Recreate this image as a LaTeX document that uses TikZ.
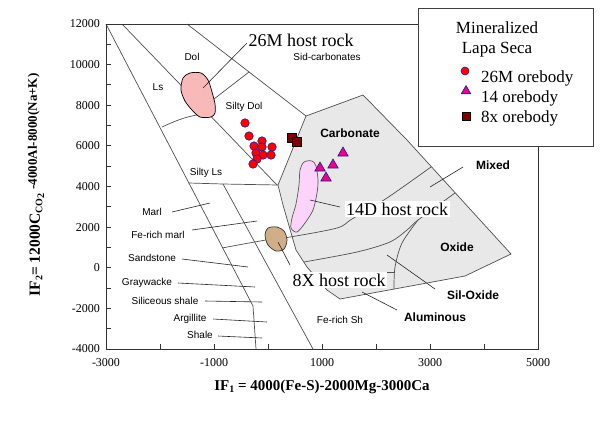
\documentclass[tikz,border=0pt]{standalone}
\usepackage{fontspec}
\setmainfont{Liberation Serif}
\newfontfamily\arialf{Liberation Sans}
\usetikzlibrary{shapes.geometric}
\definecolor{greyfill}{HTML}{E8E8E8}
\definecolor{pinkblob}{HTML}{F9B9B9}
\definecolor{lilac}{HTML}{FBD3FB}
\definecolor{tanblob}{HTML}{D1AE8A}
\definecolor{maroonc}{HTML}{800000}
\definecolor{navyc}{HTML}{1F1F8F}
\definecolor{lineg}{HTML}{505050}
\newcommand{\fsz}[1]{\fontsize{#1bp}{#1bp}\selectfont}
\newcommand{\lowsub}[1]{\raisebox{-0.35ex}{\fsz{10}#1}}
\begin{document}
\begin{tikzpicture}[x=1bp,y=-1bp,
 bnd/.style={draw=lineg,line width=0.7bp},
 ax/.style={draw=black!80,line width=1bp},
 sl/.style={font=\arialf\fsz{10},inner sep=0pt},
 bl/.style={font=\arialf\bfseries\fsz{12},inner sep=0pt},
 hr/.style={font=\fsz{18},fill=white,inner sep=1.5bp},
 tk/.style={font=\fsz{12},inner sep=0pt},
 lg/.style={font=\fsz{17},inner sep=0pt},
 circ/.style={circle,fill=red,draw=navyc,line width=0.6bp,minimum size=8.5bp,inner sep=0pt},
 tri/.style={regular polygon,regular polygon sides=3,fill=magenta,draw=navyc,line width=0.6bp,minimum size=12bp,inner sep=0pt},
 sqm/.style={rectangle,fill=maroonc,draw=black,line width=0.5bp,minimum size=9bp,inner sep=0pt},
 ldr/.style={draw=black!85,line width=0.6bp}]
\useasboundingbox (0,0) rectangle (600,421);
\fill[white] (0,0) rectangle (600,421);

% grey field
\filldraw[fill=greyfill,draw=lineg,line width=0.7bp] (278,185) -- (306,116) -- (363,95) -- (407,140) -- (511,254) -- (465,276) -- (340,299) -- (327,290) -- (307,267) -- (296,250) -- (283,205) -- cycle;

% boundaries
\draw[bnd] (106,24) -- (253,306) -- (256,349);
\draw[bnd] (122,24) -- (277,185);
\draw[bnd] (187,24) -- (306,116);
\draw[bnd] (223,184) -- (313,349);
\draw[bnd] (189,183) -- (223,184) -- (278,185);
\draw[bnd] (162,127) .. controls (175,121) and (185,117) .. (197,115);
\draw[bnd] (214,99) -- (249,72);
\draw[bnd] plot[smooth] coordinates {(222,248) (266,240) (290,237) (337,228) (352,219) (387,198) (431,167)};
\draw[bnd] plot[smooth] coordinates {(304,262) (357,252) (390,242) (407,230) (418,220) (455,193)};
\draw[bnd] plot[smooth] coordinates {(418,220) (402,243) (395,267) (394,289)};
\draw[bnd] (330,272) -- (395,272);

% host rock blobs
\filldraw[fill=pinkblob,draw=black,line width=0.7bp] plot[smooth cycle] coordinates {(190,73) (201,73) (208,80) (212,92) (215,104) (215,113) (211,117) (200,117) (192,110) (185,101) (181,90) (183,78)};
\filldraw[fill=lilac,draw=black!65,line width=0.7bp] plot[smooth cycle] coordinates {(304,162) (312,161) (316,166) (318,180) (317,193) (313,210) (305,223) (297,232) (291,228) (292,218) (296,204) (299,185) (300,170)};
\filldraw[fill=tanblob,draw=black!80,line width=0.7bp] plot[smooth cycle] coordinates {(268,228) (277,227) (284,231) (287,240) (284,249) (276,251) (268,245) (265,235)};

% leader end points
\coordinate (l26a) at (247,43);
\coordinate (l26b) at (203,88);
\coordinate (l14a) at (340,207);
\coordinate (l14b) at (310,200);
\coordinate (l8a) at (290,265);
\coordinate (l8b) at (278,242);
\coordinate (lmarla) at (172,212);   \coordinate (lmarlb) at (210,203);
\coordinate (lfema) at (192,230);    \coordinate (lfemb) at (257,221);
\coordinate (lsanda) at (182,259);   \coordinate (lsandb) at (248,267);
\coordinate (lgrya) at (178,283);    \coordinate (lgryb) at (255,287);
\coordinate (lsila) at (205,301);    \coordinate (lsilb) at (262,302);
\coordinate (larga) at (213,319);    \coordinate (largb) at (267,322);
\coordinate (lsha) at (218,336);     \coordinate (lshb) at (262,338);
\coordinate (lmixa) at (463,167);    \coordinate (lmixb) at (430,187);
\coordinate (lsoxa) at (435,289);    \coordinate (lsoxb) at (387,255);
\coordinate (laluma) at (397,310);   \coordinate (lalumb) at (362,292);

\draw[ldr] (l26a) -- (l26b);
\draw[ldr] (l14a) -- (l14b);
\draw[ldr] (l8a) -- (l8b);
\draw[ldr] (lmarla) -- (lmarlb);
\draw[ldr] (lfema) -- (lfemb);
\draw[ldr] (lsanda) -- (lsandb);
\draw[ldr] (lgrya) -- (lgryb);
\draw[ldr] (lsila) -- (lsilb);
\draw[ldr] (larga) -- (largb);
\draw[ldr] (lsha) -- (lshb);
\draw[ldr] (lmixa) -- (lmixb);
\draw[ldr] (lsoxa) -- (lsoxb);
\draw[ldr] (laluma) -- (lalumb);

% field labels
\node[sl] (tdol) at (192,57) {Dol};
\node[sl] (tls) at (158,87) {Ls};
\node[sl] (tsdol) at (244,107) {Silty Dol};
\node[sl] (tsls) at (206,173) {Silty Ls};
\node[sl] (tsid) at (327,57) {Sid-carbonates};
\node[sl] (tfesh) at (340,320) {Fe-rich Sh};
\node[sl] (tmarl) at (152,212) {Marl};
\node[sl] (tfem) at (158,235) {Fe-rich marl};
\node[sl] (tsand) at (152,258) {Sandstone};
\node[sl] (tgry) at (147,283) {Graywacke};
\node[sl] (tsil) at (165,301) {Siliceous shale};
\node[sl] (targ) at (190,319) {Argillite};
\node[sl] (tsh) at (200,335) {Shale};
\node[bl] (tcarb) at (350,133) {Carbonate};
\node[bl] (tmix) at (493,165) {Mixed};
\node[bl] (toxi) at (457,247) {Oxide};
\node[bl] (tsox) at (473,295) {Sil-Oxide};
\node[bl] (talum) at (435,317) {Aluminous};

% host rock labels
\node[hr] (h26) at (301,40) {26M host rock};
\node[hr] (h14) at (397,209) {14D host rock};
\node[hr] (h8) at (339,280) {8X host rock};

% data
\foreach \p [count=\k] in {(245,123),(249,136),(262,141),(254,146),(262,147),(272,147),(256,153),(263,155),(271,155),(257,159),(253,164)}
  \node[circ] (c\k) at \p {};
\foreach \p [count=\k] in {(343,153),(333,165),(320,168),(326,178)}
  \node[tri] (t\k) at \p {};
\node[sqm] (s1) at (292,138) {};
\node[sqm] (s2) at (297,142) {};

% axes
\draw[ax] (418,24) -- (106,24) -- (106,349) -- (538,349) -- (538,146);
\foreach \i in {1,...,7} \draw[ax] (106+54*\i,349) -- (106+54*\i,344);
\foreach \i in {1,...,15} \draw[ax] (106,24+20.3125*\i) -- (111,24+20.3125*\i);
\foreach \v/\xx in {-3000/106,-1000/214,1000/322,3000/430,5000/538}
  \node[tk] (xt\xx) at (\xx,363) {\v};
\foreach \v [count=\k] in {12000,10000,8000,6000,4000,2000,0,-2000,-4000}
  \node[tk,anchor=east] (yt\k) at (100,{24+40.625*(\k-1)}) {\v};

\node[inner sep=0pt] (xtitle) at (322,387) {\fsz{15}\bfseries IF\lowsub{1} = 4000(Fe-S)-2000Mg-3000Ca};
\node[inner sep=0pt,rotate=90] (ytitle) at (36,185) {\fsz{15.5}\bfseries IF\lowsub{2}= 12000C\lowsub{CO\lowsub{2}} \raisebox{3bp}{\fsz{13}-4000Al-8000(Na+K)}};

% legend
\draw[draw=black!75,fill=white,line width=0.8bp] (418,8) rectangle (593,146);
\node[lg] (lgt1) at (497,28) {Mineralized};
\node[lg] (lgt2) at (497,50) {Lapa Seca};
\node[circ,minimum size=8bp] (lgc) at (465,71) {};
\node[tri,minimum size=11bp] (lgtr) at (466,91) {};
\node[sqm,minimum size=8bp] (lgs) at (466,116) {};
\node[lg,anchor=west] (lgl1) at (481,78) {26M orebody};
\node[lg,anchor=west] (lgl2) at (481,98) {14 orebody};
\node[lg,anchor=west] (lgl3) at (481,118) {8x orebody};
\end{tikzpicture}
\end{document}
